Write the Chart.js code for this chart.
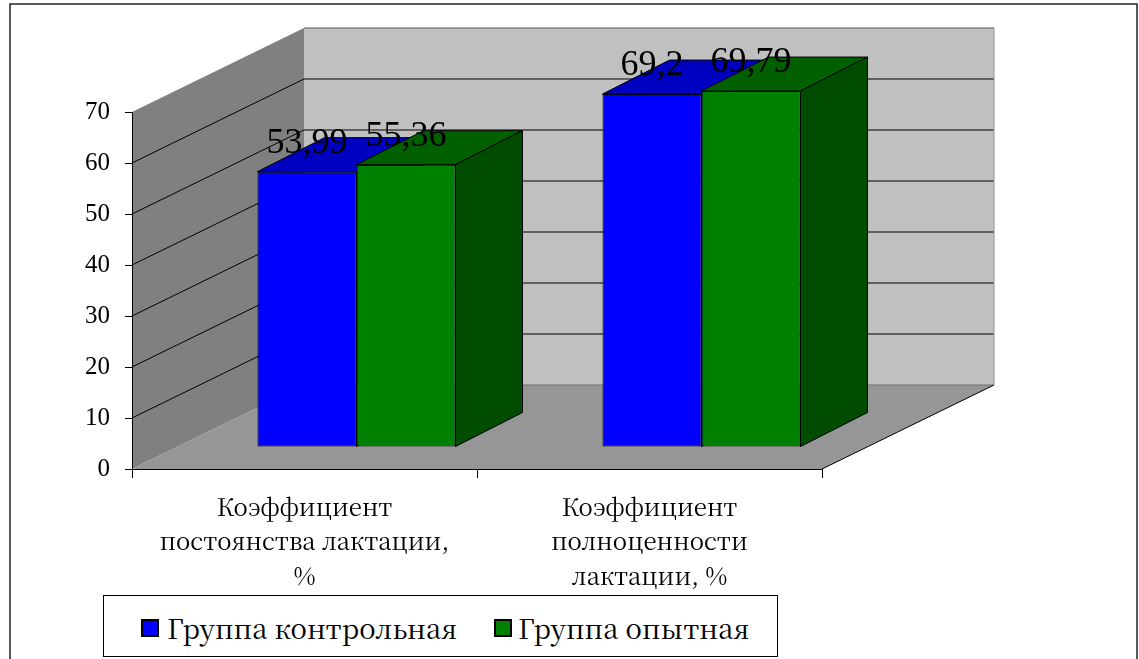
<!DOCTYPE html>
<html>
<head>
<meta charset="utf-8">
<script src="https://cdn.jsdelivr.net/npm/chart.js@4.4.0/dist/chart.umd.min.js"></script>
<style>
  html, body { margin: 0; padding: 0; background: #fff; overflow: hidden; }
  #wrap { position: relative; width: 1139px; height: 659px; }
  #legend {
    position: absolute; left: 103px; top: 595px; width: 675px; height: 62px;
    box-sizing: border-box; border: 1px solid #000; background: #fff;
    font-family: 'Noto Serif CJK SC'; font-size: 27.5px; color: #000;
  }
  #legend .box { position: absolute; top: 23px; width: 18px; height: 18px; box-sizing: border-box; border: 2px solid #000; }
  #legend .txt { position: absolute; top: 15px; line-height: 32px; white-space: nowrap; }
</style>
</head>
<body>
<div id="wrap">
  <canvas id="chart" width="1139" height="659"></canvas>
  <div id="legend"></div>
</div>
<script>
// data
const categories = [
  ['Коэффициент', 'постоянства лактации,', '%'],
  ['Коэффициент', 'полноценности', 'лактации, %']
];
const seriesNames = ['Группа контрольная', 'Группа опытная'];
const controlValues = [53.99, 69.2];
const experimentValues = [55.36, 69.79];
const yMin = 0, yMax = 70, yStep = 10;

// colours: front, top and side faces
const frontColors = ['#0000ff', '#008000'];
const topColors = ['#0000c0', '#006000'];
const sideColors = ['#000080', '#004c00'];

const FONT = "'Liberation Serif'";       // digits
const FONT_CYR = "'Noto Serif CJK SC'";  // cyrillic text (serif with cyrillic glyphs)
const DEPTH = { x: 172, y: -84 };     // shift of the back wall
const BAR_SHIFT = { x: 52, y: -22 };  // bars stand a bit inside the box
const BAR_DEPTH = { x: 67, y: -34 };  // thickness of a bar

function poly(ctx, pts, fill, stroke) {
  ctx.beginPath();
  ctx.moveTo(pts[0][0], pts[0][1]);
  for (let i = 1; i < pts.length; i++) ctx.lineTo(pts[i][0], pts[i][1]);
  ctx.closePath();
  if (fill) { ctx.fillStyle = fill; ctx.fill(); }
  if (stroke) { ctx.strokeStyle = stroke; ctx.lineWidth = 1; ctx.stroke(); }
}

function line(ctx, x1, y1, x2, y2, color) {
  ctx.beginPath();
  ctx.moveTo(x1, y1);
  ctx.lineTo(x2, y2);
  ctx.strokeStyle = color;
  ctx.lineWidth = 1;
  ctx.stroke();
}

// walls, floor and gridlines of the 3d box
const walls = {
  id: 'walls',
  beforeDraw(chart) {
    const ctx = chart.ctx;
    const a = chart.chartArea;
    const y = chart.scales.y;
    const dx = DEPTH.x, dy = DEPTH.y;
    const T = y.getPixelForValue(yMax), B = y.getPixelForValue(yMin);
    ctx.save();
    ctx.fillStyle = '#fff';
    ctx.fillRect(0, 0, chart.width, chart.height);
    ctx.strokeStyle = '#222';
    ctx.lineWidth = 1.5;
    ctx.strokeRect(10, 4, 1127, 700);

    ctx.fillStyle = '#c0c0c0';
    ctx.fillRect(a.left + dx, T + dy, a.right - a.left, B - T);
    poly(ctx, [[a.left, T], [a.left + dx, T + dy], [a.left + dx, B + dy], [a.left, B]], '#808080');
    poly(ctx, [[a.left, B], [a.right, B], [a.right + dx, B + dy], [a.left + dx, B + dy]], '#969696');

    for (let v = yMin + yStep; v <= yMax; v += yStep) {
      const py = y.getPixelForValue(v);
      if (v < yMax) line(ctx, a.left, py, a.left + dx, py + dy, '#000');
      line(ctx, a.left + dx, py + dy, a.right + dx, py + dy, v < yMax ? '#000' : '#555');
    }
    line(ctx, a.left + dx, B + dy, a.right + dx, B + dy, '#707070');
    line(ctx, a.right + dx, T + dy, a.right + dx, B + dy, '#909090');
    line(ctx, a.right, B, a.right + dx, B + dy, '#000');
    ctx.restore();
  }
};

// chart.js draws the first dataset on top, but here the right bar of a pair
// has to hide the side of the left one, so the bars are drawn here in order
const bars3d = {
  id: 'bars3d',
  beforeDatasetDraw() {
    return false;
  },
  afterDatasetsDraw(chart) {
    const ctx = chart.ctx;
    const bx = BAR_DEPTH.x, by = BAR_DEPTH.y;
    const metas = chart.data.datasets.map((ds, i) => chart.getDatasetMeta(i));

    ctx.save();
    ctx.translate(BAR_SHIFT.x, BAR_SHIFT.y);
    categories.forEach((c, j) => {
      metas.forEach((meta, i) => {
        const bar = meta.data[j];
        const { x, y, base, width } = bar.getProps(['x', 'y', 'base', 'width'], true);
        const l = x - width / 2, r = x + width / 2;
        bar.draw(ctx);
        poly(ctx, [[l, y], [r, y], [r + bx, y + by], [l + bx, y + by]], topColors[i], '#000');
        poly(ctx, [[r, y], [r + bx, y + by], [r + bx, base + by], [r, base]], sideColors[i], '#000');
      });
    });
    ctx.restore();

    ctx.save();
    ctx.font = '36px ' + FONT;
    ctx.fillStyle = '#000';
    ctx.textAlign = 'center';
    ctx.textBaseline = 'alphabetic';
    chart.data.datasets.forEach((ds, i) => {
      metas[i].data.forEach((bar, j) => {
        const txt = String(ds.data[j]).replace('.', ',');
        ctx.fillText(txt, bar.x + BAR_SHIFT.x, bar.y + BAR_SHIFT.y - 19);
      });
    });
    ctx.restore();
  }
};

const ctx = document.getElementById('chart');
const chart = new Chart(ctx, {
  type: 'bar',
  data: {
    labels: categories,
    datasets: [
      { label: seriesNames[0], data: controlValues, backgroundColor: frontColors[0] },
      { label: seriesNames[1], data: experimentValues, backgroundColor: frontColors[1] }
    ].map(d => Object.assign(d, {
      borderColor: '#000', borderWidth: 1, borderSkipped: false,
      categoryPercentage: 0.574, barPercentage: 1
    }))
  },
  options: {
    responsive: false,
    animation: false,
    layout: { padding: { left: 0, top: 112, right: 317, bottom: 64 } },
    plugins: { legend: { display: false }, tooltip: { enabled: false } },
    scales: {
      x: {
        offset: true,
        grid: { offset: true, drawOnChartArea: false, color: '#000', tickLength: 9 },
        border: { color: '#000', width: 1 },
        ticks: { font: { family: FONT_CYR, size: 24, lineHeight: 1.45 }, color: '#000', padding: 11, maxRotation: 0, autoSkip: false },
        afterFit(s) { s.height = 126; }
      },
      y: {
        min: yMin, max: yMax,
        grid: { drawOnChartArea: false, color: '#000', tickLength: 7 },
        border: { color: '#000', width: 1 },
        ticks: { stepSize: yStep, font: { family: FONT, size: 25 }, color: '#000', padding: 15 },
        afterFit(s) { s.width = 132; }
      }
    }
  },
  plugins: [walls, bars3d]
});

// legend in html, built from the datasets
const legend = document.getElementById('legend');
const itemPos = [[37, 63], [390, 414]];
chart.data.datasets.forEach((ds, i) => {
  const box = document.createElement('div');
  box.className = 'box';
  box.style.left = itemPos[i][0] + 'px';
  box.style.background = ds.backgroundColor;
  const txt = document.createElement('div');
  txt.className = 'txt';
  txt.style.left = itemPos[i][1] + 'px';
  txt.textContent = ds.label;
  legend.appendChild(box);
  legend.appendChild(txt);
});
</script>
</body>
</html>
